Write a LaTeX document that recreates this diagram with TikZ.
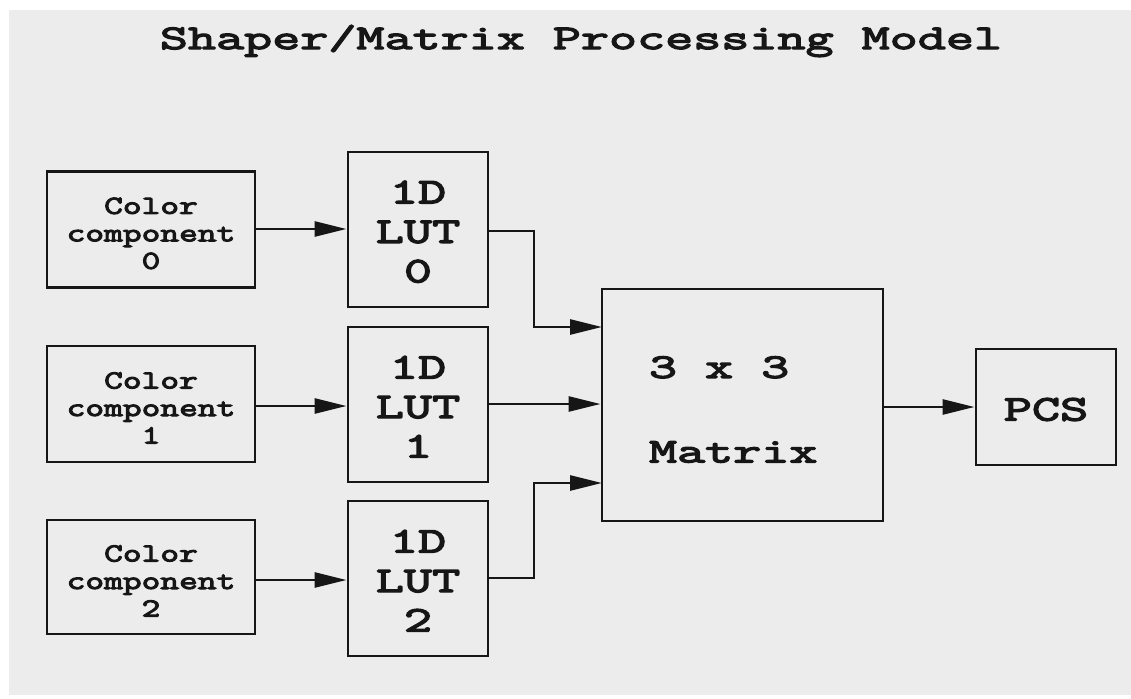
\documentclass[tikz,border=0pt]{standalone}
\usepackage{fontspec}
\newfontfamily\courA{Latin Modern Mono}[FakeStretch=1.52, FakeBold=4]
\newfontfamily\courB{Latin Modern Mono}[FakeStretch=1.4, FakeBold=4]
\newfontfamily\courC{Latin Modern Mono}[FakeStretch=1.58, FakeBold=4]
\usetikzlibrary{arrows.meta}
\definecolor{paper}{HTML}{ECECEC}
\definecolor{ink}{HTML}{161616}
\tikzset{
  box/.style={draw=ink, line width=2.9pt, fill=none, inner sep=0pt, align=center, text=ink},
  ccbox/.style={box, minimum width=208pt, minimum height=116pt, font=\courB\fontsize{26}{27.5}\selectfont},
  lutbox/.style={box, minimum width=140pt, minimum height=155pt, font=\courA\fontsize{36}{39.5}\selectfont},
  conn/.style={draw=ink, line width=2.6pt, -{Triangle[length=32pt,width=15pt]}},
}
\newcommand{\topstrut}[1]{\rule{0pt}{#1}}
\begin{document}
\begin{tikzpicture}[x=1pt,y=-1pt]
\useasboundingbox (0,0) rectangle (1131,698);
\fill[white] (0,0) rectangle (1131,698);
\fill[paper] (9,10) rectangle (1131,695);
\node[text=ink, inner sep=0pt, font=\courC\fontsize{34.5}{40}\selectfont] (title) at (581,41) {Shaper/Matrix Processing Model};

\node[ccbox] (cc0) at (151,229.5) {\topstrut{24pt}Color\\component\\0};
\node[ccbox] (cc1) at (151,404) {\topstrut{24pt}Color\\component\\1};
\node[ccbox, minimum height=114pt] (cc2) at (151,577) {\topstrut{24pt}Color\\component\\2};

\node[lutbox] (lut0) at (418,229.5) {\topstrut{27pt}1D\\LUT\\0};
\node[lutbox] (lut1) at (418,404.5) {\topstrut{27pt}1D\\LUT\\1};
\node[lutbox] (lut2) at (418,578.5) {\topstrut{27pt}1D\\LUT\\2};

\node[box, minimum width=281pt, minimum height=232pt, text width=187pt, inner xsep=47pt, align=left,
      font=\courC\fontsize{34.5}{84.5}\selectfont] (mat) at (742.5,405) {\topstrut{30.5pt}3\phantom{x}x\phantom{x}3\\Matrix};

\node[box, minimum width=140pt, minimum height=116pt, font=\courA\fontsize{36}{40}\selectfont] (pcs) at (1046,407) {\topstrut{27.4pt}PCS};

\coordinate (m0) at (602,327);
\coordinate (m2) at (602,483);
\coordinate (a0) at (534,231);
\coordinate (a2) at (534,578);

\draw[conn] (cc0.east |- 0,229) -- (lut0.west |- 0,229);
\draw[conn] (cc1.east |- 0,406) -- (lut1.west |- 0,406);
\draw[conn] (cc2.east |- 0,580) -- (lut2.west |- 0,580);

\draw[conn] (lut0.east |- a0) -- (a0) |- (m0);
\draw[conn] (lut1.east |- 0,404) -- (mat.west |- 0,404);
\draw[conn] (lut2.east |- a2) -- (a2) |- (m2);

\draw[conn] (mat.east |- 0,407) -- (pcs.west |- 0,407);
\end{tikzpicture}
\end{document}
